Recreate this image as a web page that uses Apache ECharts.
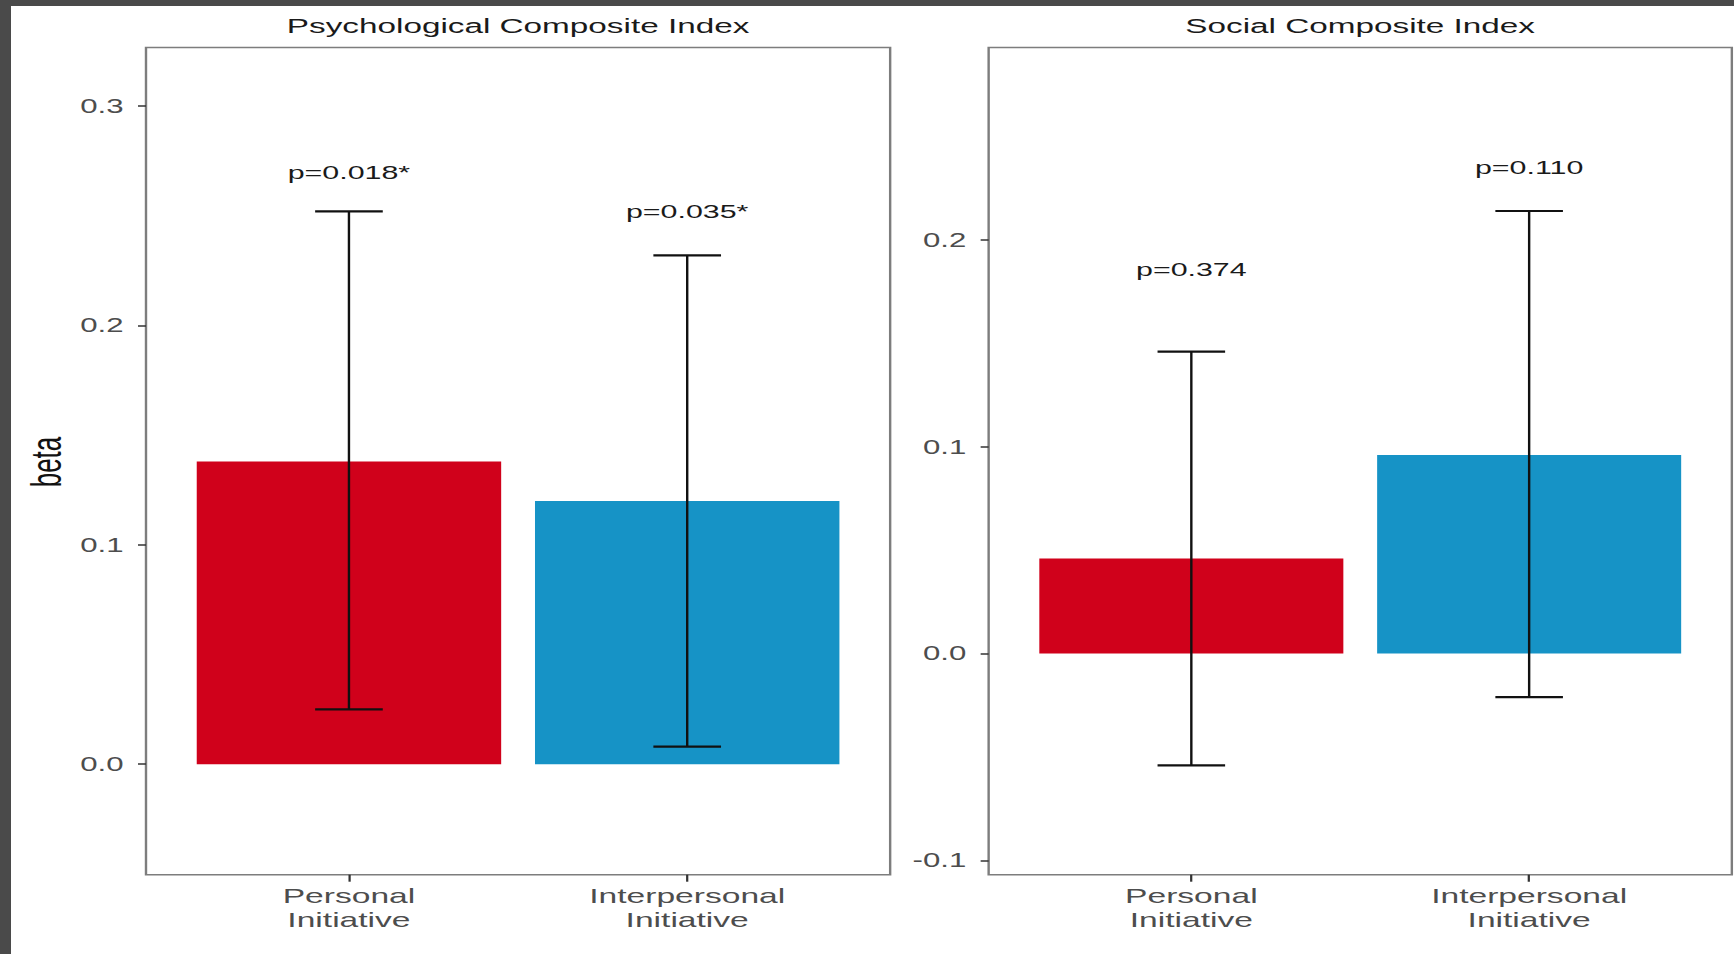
<!DOCTYPE html>
<html>
<head>
<meta charset="utf-8">
<title>Composite Index betas</title>
<script src="https://cdn.jsdelivr.net/npm/echarts@6/dist/echarts.min.js"></script>
<style>
  html, body { margin: 0; padding: 0; width: 1734px; height: 954px; overflow: hidden; background: #4a4a4a; }
  #sheet { position: absolute; left: 11px; top: 6px; width: 1723px; height: 948px; background: #ffffff; }
  /* the figure is drawn at 1084 px wide and widened 1.6x */
  #chart { position: absolute; left: 0; top: 0; width: 1084px; height: 954px;
           transform: scaleX(1.6); transform-origin: 0 0; }
</style>
</head>
<body>
<div id="sheet"></div>
<div id="chart"></div>
<script>
// ---- data ----
const categories = ['Personal\nInitiative', 'Interpersonal\nInitiative'];
const categoryPositions = [1, 2];
const panelTitles = ['Psychological Composite Index', 'Social Composite Index'];
const yAxisTitle = 'beta';

const psychBeta  = [0.138, 0.120];
const psychLower = [0.025, 0.008];
const psychUpper = [0.252, 0.232];
const psychPText = ['p=0.018*', 'p=0.035*'];
const psychPY    = [0.270, 0.252];
const psychTicks = [0.0, 0.1, 0.2, 0.3];

const socialBeta  = [0.046, 0.096];
const socialLower = [-0.054, -0.021];
const socialUpper = [0.146, 0.214];
const socialPText = ['p=0.374', 'p=0.110'];
const socialPY    = [0.186, 0.235];
const socialTicks = [-0.1, 0.0, 0.1, 0.2];

const barColors = ['#d0011b', '#1693c6'];

// ---- style ----
const FONT = 'Liberation Sans, Arial, Helvetica, sans-serif';
const BAR_HALF = 0.45;
const CAP_HALF = 0.1;

function renderBar(params, api) {
  const x = api.value(0), b = api.value(1), lo = api.value(2), hi = api.value(3);
  const c = barColors[api.value(4)];
  const a = api.coord([x - BAR_HALF, b]);
  const z = api.coord([x + BAR_HALF, 0]);
  const top = api.coord([x, hi]);
  const bot = api.coord([x, lo]);
  const capL = api.coord([x - CAP_HALF, hi])[0];
  const capR = api.coord([x + CAP_HALF, hi])[0];
  return {
    type: 'group',
    children: [
      { type: 'rect',
        shape: { x: a[0], y: Math.min(a[1], z[1]), width: z[0] - a[0], height: Math.abs(z[1] - a[1]) },
        style: { fill: c } },
      { type: 'line', shape: { x1: top[0], y1: top[1], x2: bot[0], y2: bot[1] },
        style: { stroke: '#111111', lineWidth: 1.5 } },
      { type: 'line', shape: { x1: capL, y1: top[1], x2: capR, y2: top[1] },
        style: { stroke: '#111111', lineWidth: 2.2 } },
      { type: 'line', shape: { x1: capL, y1: bot[1], x2: capR, y2: bot[1] },
        style: { stroke: '#111111', lineWidth: 2.2 } }
    ]
  };
}

function makeLabelRenderer(texts) {
  return function (params, api) {
    const p = api.coord([api.value(0), api.value(1)]);
    return {
      type: 'text', x: p[0], y: p[1],
      style: { text: texts[params.dataIndex], fill: '#1a1a1a', font: '19px ' + FONT,
               align: 'center', verticalAlign: 'middle' }
    };
  };
}

function xAxisFor(gridIndex) {
  return {
    type: 'value', gridIndex: gridIndex, min: 0.4, max: 2.6,
    splitLine: { show: false },
    axisLine: { show: false, onZero: false },
    axisTick: { show: true, customValues: categoryPositions, length: 7,
                lineStyle: { color: '#333333', width: 1.4 } },
    axisLabel: { customValues: categoryPositions,
                 formatter: v => categories[categoryPositions.indexOf(Math.round(v))],
                 margin: 9, color: '#4d4d4d', fontSize: 21, lineHeight: 24,
                 fontFamily: FONT, align: 'center' }
  };
}

function yAxisFor(gridIndex, min, max, ticks) {
  return {
    type: 'value', gridIndex: gridIndex, min: min, max: max,
    splitLine: { show: false },
    axisLine: { show: false, onZero: false },
    axisTick: { show: true, customValues: ticks, length: 5,
                lineStyle: { color: '#333333', width: 1.5 } },
    axisLabel: { customValues: ticks, formatter: v => v.toFixed(1),
                 margin: 14, color: '#4d4d4d', fontSize: 19.5, fontFamily: FONT }
  };
}

const gridStyle = { show: true, borderColor: '#7d7d7d', borderWidth: 1.5, backgroundColor: 'transparent' };

const option = {
  animation: false,
  grid: [
    Object.assign({ left: 91.25, top: 47.6, width: 465.1, height: 827.1 }, gridStyle),
    Object.assign({ left: 617.9, top: 47.6, width: 464.5, height: 827.1 }, gridStyle)
  ],
  xAxis: [xAxisFor(0), xAxisFor(1)],
  yAxis: [
    yAxisFor(0, -0.0504, 0.3267, psychTicks),
    yAxisFor(1, -0.1069, 0.2930, socialTicks)
  ],
  graphic: [
    { type: 'text', x: 323.8, y: 26, silent: true,
      style: { text: panelTitles[0], font: '20.8px ' + FONT, fill: '#1a1a1a', align: 'center', verticalAlign: 'middle' } },
    { type: 'text', x: 850.1, y: 26, silent: true,
      style: { text: panelTitles[1], font: '20.8px ' + FONT, fill: '#1a1a1a', align: 'center', verticalAlign: 'middle' } },
    { type: 'text', x: 29, y: 462, rotation: Math.PI / 2, silent: true,
      style: { text: yAxisTitle, font: '26px ' + FONT, fill: '#111111', align: 'center', verticalAlign: 'middle' } }
  ],
  series: [
    { type: 'custom', xAxisIndex: 0, yAxisIndex: 0, silent: true, renderItem: renderBar,
      data: psychBeta.map((b, i) => [categoryPositions[i], b, psychLower[i], psychUpper[i], i]) },
    { type: 'custom', xAxisIndex: 1, yAxisIndex: 1, silent: true, renderItem: renderBar,
      data: socialBeta.map((b, i) => [categoryPositions[i], b, socialLower[i], socialUpper[i], i]) },
    { type: 'custom', xAxisIndex: 0, yAxisIndex: 0, silent: true, renderItem: makeLabelRenderer(psychPText),
      data: psychPY.map((y, i) => [categoryPositions[i], y]) },
    { type: 'custom', xAxisIndex: 1, yAxisIndex: 1, silent: true, renderItem: makeLabelRenderer(socialPText),
      data: socialPY.map((y, i) => [categoryPositions[i], y]) }
  ]
};

const chart = echarts.init(document.getElementById('chart'), null, { renderer: 'svg' });
chart.setOption(option);
</script>
</body>
</html>
